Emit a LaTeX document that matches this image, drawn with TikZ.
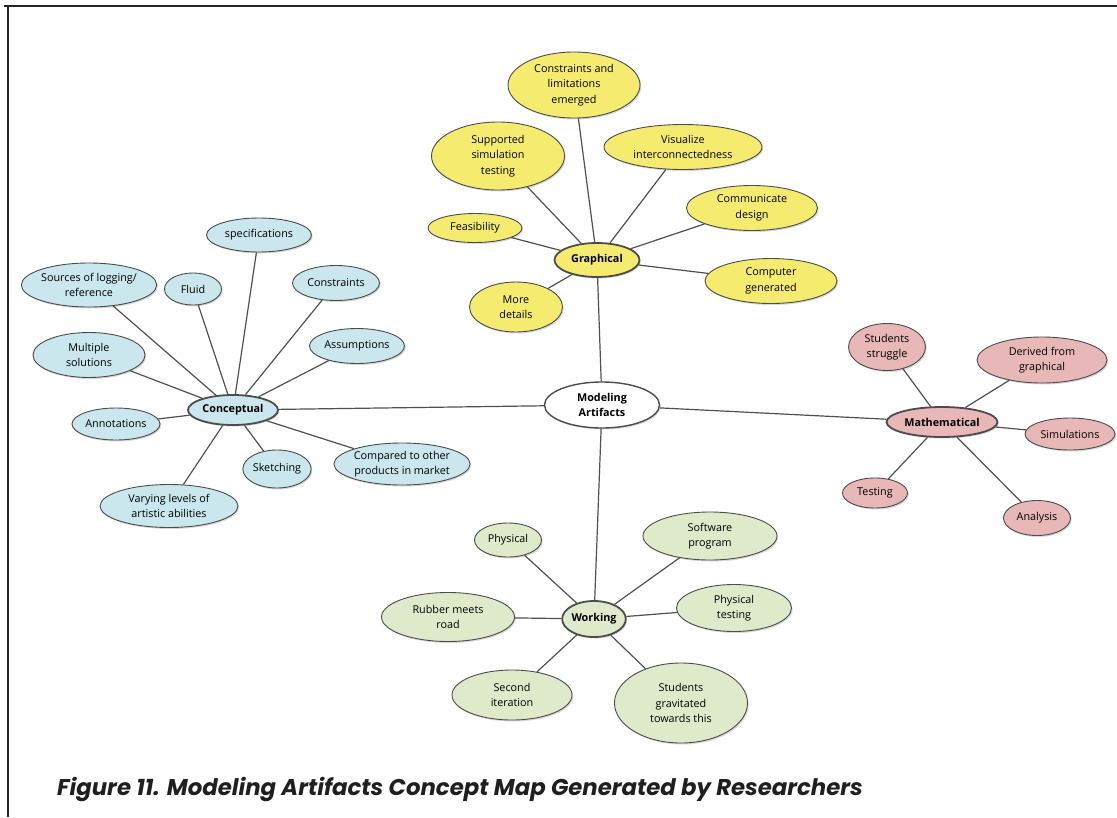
\documentclass[tikz,border=0pt]{standalone}
\usepackage{fontspec}
\setmainfont{Open Sans}
\newfontfamily\capfont{Poppins}
\usetikzlibrary{shapes.geometric,shadows}

\definecolor{gyel}{HTML}{F5EB6E}
\definecolor{cblu}{HTML}{C9E7EC}
\definecolor{mpnk}{HTML}{E8B7B7}
\definecolor{wgrn}{HTML}{DEEACA}
\definecolor{edgc}{HTML}{505050}

\begin{document}
\begin{tikzpicture}[x=1pt,y=-1pt,
		leaf/.style={ellipse, draw=black!70, line width=0.9pt, align=center, inner sep=0pt,
			font=\fontsize{10.8}{15.5}\selectfont,
			drop shadow={shadow xshift=1.2pt, shadow yshift=-1.5pt, opacity=0.3}},
		hub/.style={leaf, line width=1.8pt, font=\fontsize{10.8}{15.5}\selectfont\bfseries},
		gra/.style={fill=gyel},
		con/.style={fill=cblu},
		mat/.style={fill=mpnk},
		wrk/.style={fill=wgrn},
		ed/.style={line width=1.2pt, draw=edgc},
		frm/.style={line width=1.2pt, draw=black!85}
		]
		\useasboundingbox (0,0) rectangle (1117,817);
		\draw[frm] (4,6) -- (1117,6);
		\draw[frm] (8,6) -- (8,817);
		% centre
		\node[leaf, fill=white, line width=1.4pt, font=\fontsize{10.8}{15.5}\selectfont\bfseries, minimum width=115, minimum height=46] (ma) at (602,405) {Modeling\\ Artifacts};
		% graphical
		\node[hub, gra, minimum width=85, minimum height=34] (gr) at (597,260) {Graphical};
		\node[leaf, gra, minimum width=132, minimum height=66] (g1) at (574,85) {Constraints and\\ limitations\\ emerged};
		\node[leaf, gra, minimum width=133, minimum height=68] (g2) at (498,156) {Supported\\ simulation\\ testing};
		\node[leaf, gra, minimum width=158, minimum height=45] (g3) at (683,147) {Visualize\\ interconnectedness};
		\node[leaf, gra, minimum width=131, minimum height=45] (g4) at (752,208) {Communicate\\ design};
		\node[leaf, gra, minimum width=94, minimum height=29] (g5) at (475,228) {Feasibility};
		\node[leaf, gra, minimum width=132, minimum height=45] (g6) at (771,281) {Computer\\ generated};
		\node[leaf, gra, minimum width=93, minimum height=50] (g7) at (516,307) {More\\ details};
		% conceptual
		\node[hub, con, minimum width=90, minimum height=30] (co) at (233,410) {Conceptual};
		\node[leaf, con, minimum width=105, minimum height=34] (c1) at (259,235) {specifications};
		\node[leaf, con, minimum width=132, minimum height=44] (c2) at (89,285) {Sources of logging/\\ reference};
		\node[leaf, con, minimum width=57, minimum height=32] (c3) at (193,289) {Fluid};
		\node[leaf, con, minimum width=87, minimum height=35] (c4) at (336,283) {Constraints};
		\node[leaf, con, minimum width=95, minimum height=35] (c5) at (357,346) {Assumptions};
		\node[leaf, con, minimum width=112, minimum height=45] (c6) at (89,355) {Multiple\\ solutions};
		\node[leaf, con, minimum width=88, minimum height=32] (c7) at (116,424) {Annotations};
		\node[leaf, con, minimum width=65, minimum height=38] (c8) at (277,469) {Sketching};
		\node[leaf, con, minimum width=138, minimum height=43] (c9) at (169,506) {Varying levels of\\ artistic abilities};
		\node[leaf, con, minimum width=122, minimum height=42] (c10) at (402,464) {Compared to other\\ products in market};
		% mathematical
		\node[hub, mat, minimum width=111, minimum height=30] (mt) at (942,422) {Mathematical};
		\node[leaf, mat, minimum width=77, minimum height=47] (m1) at (887,347) {Students\\ struggle};
		\node[leaf, mat, minimum width=130, minimum height=46] (m2) at (1042,360) {Derived from\\ graphical};
		\node[leaf, mat, minimum width=90, minimum height=32] (m3) at (1070,434) {Simulations};
		\node[leaf, mat, minimum width=65, minimum height=30] (m4) at (875,493) {Testing};
		\node[leaf, mat, minimum width=67, minimum height=35] (m5) at (1037,518) {Analysis};
		% working
		\node[hub, wrk, minimum width=60, minimum height=36] (wk) at (594,619) {Working};
		\node[leaf, wrk, minimum width=67, minimum height=34] (w1) at (508,540) {Physical};
		\node[leaf, wrk, minimum width=134, minimum height=48] (w2) at (710,536) {Software\\ program};
		\node[leaf, wrk, minimum width=133, minimum height=49] (w3) at (448,617) {Rubber meets\\ road};
		\node[leaf, wrk, minimum width=115, minimum height=47] (w4) at (734,608) {Physical\\ testing};
		\node[leaf, wrk, minimum width=120, minimum height=50] (w5) at (512,695) {Second\\ iteration};
		\node[leaf, wrk, minimum width=133, minimum height=80] (w6) at (681,703) {Students\\ gravitated\\ towards this};
		% edges
		\draw[ed] (ma)--(gr);
		\draw[ed] (ma)--(co);
		\draw[ed] (ma)--(mt);
		\draw[ed] (ma)--(wk);
		\draw[ed] (gr)--(g1);
		\draw[ed] (gr)--(g2);
		\draw[ed] (gr)--(g3);
		\draw[ed] (gr)--(g4);
		\draw[ed] (gr)--(g5);
		\draw[ed] (gr)--(g6);
		\draw[ed] (gr)--(g7);
		\draw[ed] (co)--(c1);
		\draw[ed] (co)--(c2);
		\draw[ed] (co)--(c3);
		\draw[ed] (co)--(c4);
		\draw[ed] (co)--(c5);
		\draw[ed] (co)--(c6);
		\draw[ed] (co)--(c7);
		\draw[ed] (co)--(c8);
		\draw[ed] (co)--(c9);
		\draw[ed] (co)--(c10);
		\draw[ed] (mt)--(m1);
		\draw[ed] (mt)--(m2);
		\draw[ed] (mt)--(m3);
		\draw[ed] (mt)--(m4);
		\draw[ed] (mt)--(m5);
		\draw[ed] (wk)--(w1);
		\draw[ed] (wk)--(w2);
		\draw[ed] (wk)--(w3);
		\draw[ed] (wk)--(w4);
		\draw[ed] (wk)--(w5);
		\draw[ed] (wk)--(w6);
		% caption
		\node[anchor=base west, inner sep=0pt, text=black!88, font=\capfont\bfseries\itshape\fontsize{22.8}{27}\selectfont] (cap) at (57,795) {Figure 11. Modeling Artifacts Concept Map Generated by Researchers};
	\end{tikzpicture}
\end{document}
